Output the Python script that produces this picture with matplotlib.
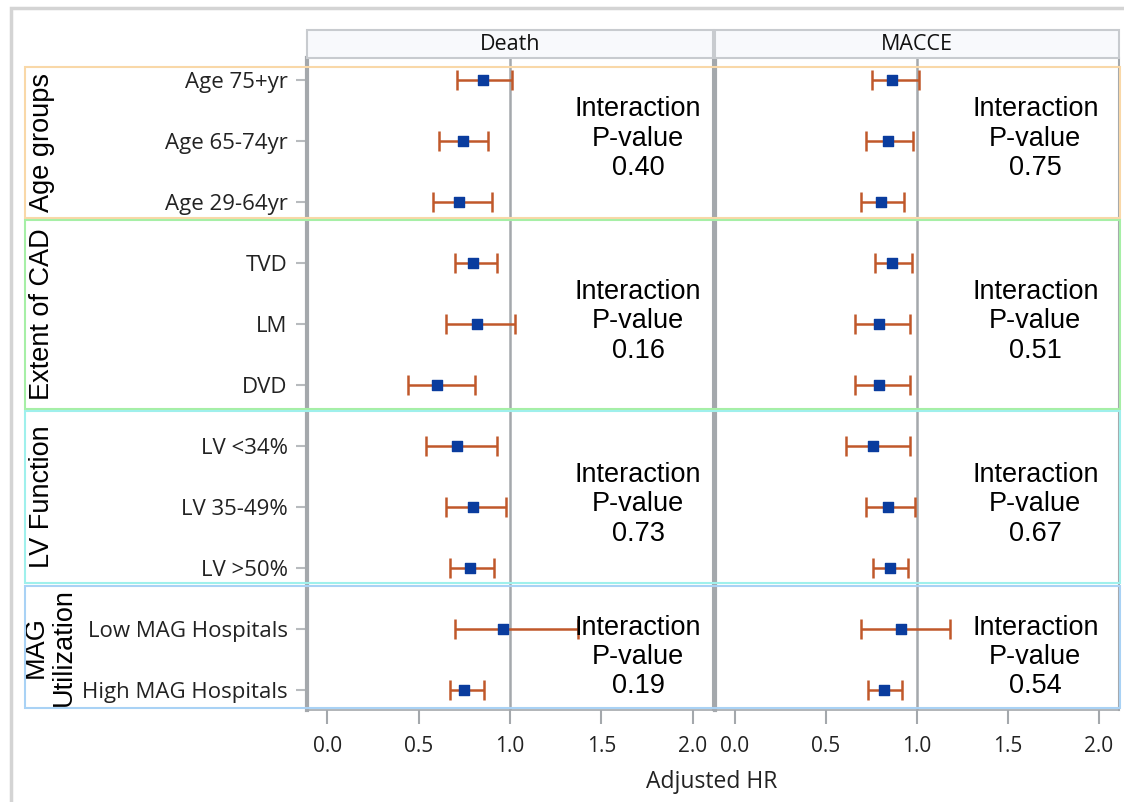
import matplotlib.pyplot as plt
from matplotlib.patches import Rectangle
from matplotlib.transforms import blended_transform_factory

# rows, top to bottom
labels = ["Age 75+yr", "Age 65-74yr", "Age 29-64yr",
          "TVD", "LM", "DVD",
          "LV <34%", "LV 35-49%", "LV >50%",
          "Low MAG Hospitals", "High MAG Hospitals"]

groups = ["Age groups", "Extent of CAD", "LV Function", "MAG\nUtilization"]
group_sizes = [3, 3, 3, 2]

panels = ["Death", "MACCE"]

death_hr = [0.85, 0.745, 0.72, 0.80, 0.82, 0.60, 0.71, 0.80, 0.78, 0.96, 0.75]
death_lo = [0.71, 0.61, 0.58, 0.70, 0.65, 0.44, 0.54, 0.65, 0.67, 0.70, 0.67]
death_hi = [1.01, 0.88, 0.90, 0.93, 1.03, 0.81, 0.93, 0.98, 0.91, 1.37, 0.86]

macce_hr = [0.86, 0.84, 0.80, 0.86, 0.79, 0.79, 0.76, 0.84, 0.85, 0.91, 0.82]
macce_lo = [0.75, 0.72, 0.69, 0.77, 0.66, 0.66, 0.61, 0.72, 0.76, 0.69, 0.73]
macce_hi = [1.01, 0.98, 0.93, 0.97, 0.96, 0.96, 0.96, 0.99, 0.95, 1.18, 0.92]

death_p = ["0.40", "0.16", "0.73", "0.19"]
macce_p = ["0.75", "0.51", "0.67", "0.54"]

xticks = [0.0, 0.5, 1.0, 1.5, 2.0]

# layout (pixels of a 1124x802 canvas)
W, H = 1124, 802
box_colors = ["#f9d8a8", "#a6efa6", "#9ff0ec", "#a9d2f5"]
box_edges = [(-0.21, 2.26), (2.30, 5.39), (5.43, 8.25), (8.30, 10.30)]
note_x = [1.70, 1.65]
label_font = "Open Sans"
note_font = "Liberation Sans"
grey = "#a4a8ac"

fig = plt.figure(figsize=(W / 100, H / 100), dpi=100)

# outer frame (only top and left edges are inside the picture)
fig.patches.append(Rectangle((11 / W, -0.05), 1.1, (H - 8) / H + 0.05,
                             transform=fig.transFigure, fill=False,
                             edgecolor="#d4d4d4", linewidth=2.5))


def px_axes(x0, x1, y0, y1):
    return fig.add_axes([x0 / W, 1 - y1 / H, (x1 - x0) / W, (y1 - y0) / H])


ax1 = px_axes(307, 713, 58, 710)
ax2 = px_axes(715, 1119, 58, 710)
axes = [ax1, ax2]

series = [(death_hr, death_lo, death_hi, death_p),
          (macce_hr, macce_lo, macce_hi, macce_p)]

rows = list(range(len(labels)))
starts = [sum(group_sizes[:i]) for i in range(len(group_sizes))]

for ax, (hr, lo, hi, pv), name, nx in zip(axes, series, panels, note_x):
    ax.axvline(1.0, color=grey, linewidth=1.8, zorder=1)
    xerr = [[h - l for h, l in zip(hr, lo)], [u - h for h, u in zip(hr, hi)]]
    ax.errorbar(hr, rows, xerr=xerr, fmt="none", ecolor="#c0582a",
                elinewidth=1.8, capsize=7, capthick=1.8, zorder=2)
    ax.scatter(hr, rows, marker="s", s=52, color="#0a3c9e", zorder=3)
    ax.set_xlim(-0.11, 2.11)
    ax.set_ylim(10.33, -0.36)
    ax.set_xticks(xticks)
    ax.set_xticklabels([f"{t:.1f}" for t in xticks], fontsize=15,
                       family=label_font, color="#222222")
    ax.tick_params(axis="x", direction="out", length=10, width=1.5,
                   color=grey, pad=9)
    for s in ax.spines.values():
        s.set_color(grey)
        s.set_linewidth(1.2)
    ax.spines["left"].set_linewidth(3)
    ax.spines["right"].set_linewidth(1.5)
    # interaction notes
    for st, n, p in zip(starts, group_sizes, pv):
        yc = st + (n - 1) / 2 - 0.04
        ax.text(nx, yc, "Interaction\nP-value\n" + p, ha="center",
                va="center", fontsize=19.5, family=note_font,
                linespacing=1.16, zorder=4)
    # header strip
    bb = ax.get_position()
    fig.patches.append(Rectangle((bb.x0, 1 - 58 / H), bb.width, 28 / H,
                                 transform=fig.transFigure,
                                 facecolor="#f8f9fc", edgecolor="#c8cbcf",
                                 linewidth=1.5))
    fig.text(bb.x0 + bb.width / 2, 1 - 45 / H, name, ha="center",
             va="center", fontsize=15.5, family=label_font, color="#111111")

ax1.set_yticks(rows)
ax1.set_yticklabels(labels, fontsize=16, family=label_font,
                    color="#222222")
ax1.tick_params(axis="y", direction="out", length=8, width=1.5,
                color="#b8bbbe", pad=6)
ax2.set_yticks([])

# group boxes spanning both panels
tr = blended_transform_factory(fig.transFigure, ax1.transData)
for (y0, y1), c, g in zip(box_edges, box_colors, groups):
    fig.patches.append(Rectangle((25 / W, y0), (1120 - 25) / W, y1 - y0,
                                 transform=tr, fill=False, edgecolor=c,
                                 linewidth=1.5, zorder=5))
    fig.text(42 / W if "\n" not in g else 50 / W, (y0 + y1) / 2, g,
             transform=tr, rotation=90, ha="center", va="center",
             fontsize=19.5, family=note_font, linespacing=1.08)

fig.text(712 / W, 1 - 782 / H, "Adjusted HR", ha="center", va="center",
         fontsize=16.5, family=label_font, color="#222222")

fig.savefig("out.png", dpi=100)
